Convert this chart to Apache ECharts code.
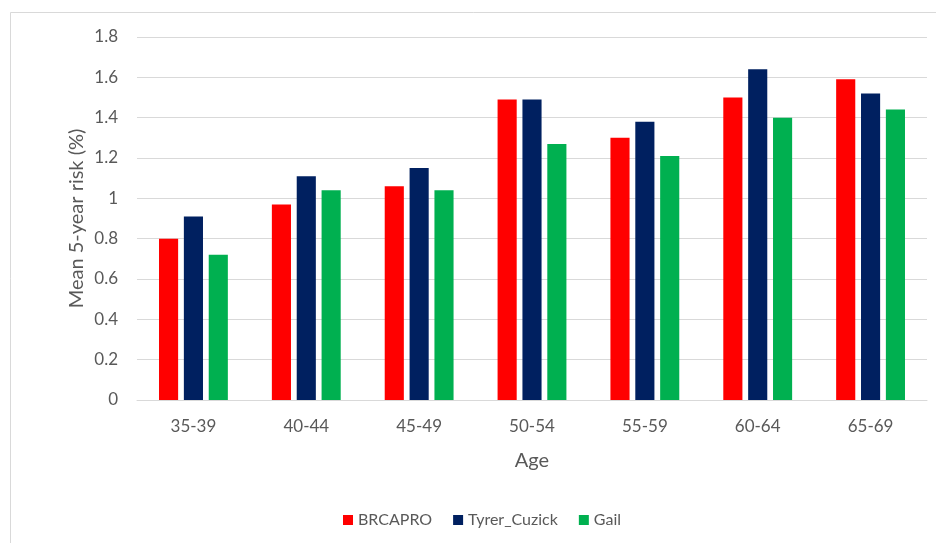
<!DOCTYPE html>
<html>
<head>
<meta charset="utf-8">
<script src="https://cdn.jsdelivr.net/npm/echarts@6/dist/echarts.min.js"></script>
<style>
  html, body { margin: 0; padding: 0; background: #fff; }
  #chart { width: 936px; height: 543px; }
</style>
</head>
<body>
<div id="chart"></div>
<script>
// Age groups on the x axis
const ageGroups = ['35-39', '40-44', '45-49', '50-54', '55-59', '60-64', '65-69'];

// Mean 5-year risk (%) per model
const brcapro = [0.80, 0.97, 1.06, 1.49, 1.30, 1.50, 1.59];
const tyrerCuzick = [0.91, 1.11, 1.15, 1.49, 1.38, 1.64, 1.52];
const gail = [0.72, 1.04, 1.04, 1.27, 1.21, 1.40, 1.44];

const seriesNames = ['BRCAPRO', 'Tyrer_Cuzick', 'Gail'];
const seriesColors = ['#FF0000', '#002060', '#00B050'];
const seriesValues = [brcapro, tyrerCuzick, gail];

const font = 'Lato, "Open Sans", sans-serif';
const textColor = '#595959';
const gridColor = '#D9D9D9';

const chart = echarts.init(document.getElementById('chart'), null, { renderer: 'canvas' });

chart.setOption({
  animation: false,
  backgroundColor: '#fff',
  textStyle: { fontFamily: font },
  graphic: [{
    type: 'rect',
    shape: { x: 10.5, y: 12.5, width: 960, height: 600 },
    style: { fill: 'none', stroke: gridColor, lineWidth: 1 },
    silent: true,
    z: -1
  }],
  grid: { left: 137, right: 9, top: 37, bottom: 143, containLabel: false },
  legend: {
    left: 338,
    top: 507,
    itemWidth: 10,
    itemHeight: 10,
    itemGap: 21,
    icon: 'rect',
    textStyle: { color: textColor, fontSize: 16, fontFamily: font },
    data: seriesNames
  },
  xAxis: {
    type: 'category',
    data: ageGroups,
    name: 'Age',
    nameLocation: 'middle',
    nameGap: 51,
    nameMoveOverlap: false,
    nameTextStyle: { color: textColor, fontSize: 20, fontFamily: font },
    axisLine: { show: true, lineStyle: { color: gridColor, width: 1 } },
    axisTick: { show: false },
    axisLabel: { color: textColor, fontSize: 17, margin: 18, fontFamily: font }
  },
  yAxis: {
    type: 'value',
    min: 0,
    max: 1.8,
    interval: 0.2,
    name: 'Mean 5-year risk (%)',
    nameLocation: 'middle',
    nameRotate: 90,
    nameGap: 50,
    nameMoveOverlap: false,
    nameTextStyle: { color: textColor, fontSize: 20, fontFamily: font },
    axisLine: { show: false },
    axisTick: { show: false },
    splitLine: { lineStyle: { color: gridColor, width: 1 } },
    axisLabel: {
      color: textColor,
      fontSize: 17,
      margin: 19,
      fontFamily: font,
      formatter: v => String(Math.round(v * 10) / 10)
    }
  },
  series: seriesNames.map((name, i) => ({
    name: name,
    type: 'bar',
    data: seriesValues[i],
    barGap: '30%',
    barCategoryGap: '39%',
    itemStyle: { color: seriesColors[i] }
  }))
});
</script>
</body>
</html>
